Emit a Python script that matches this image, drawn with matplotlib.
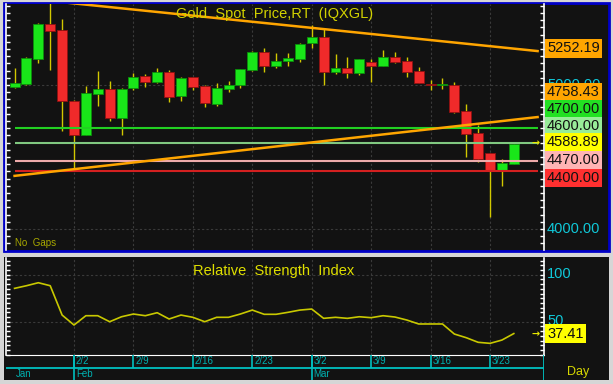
import matplotlib.pyplot as plt
import numpy as np
from matplotlib.patches import Rectangle
from matplotlib.ticker import MultipleLocator

W, H = 613, 384

# daily OHLC, Jan 26 .. Mar 25
opens = [4986, 5005, 5178, 5424, 5382, 4889, 4653, 4938, 4970, 4769,
         4981, 5062, 5023, 5088, 4924, 5053, 4995, 4868, 4970, 5000,
         5104, 5227, 5132, 5167, 5178, 5294, 5331, 5092, 5120, 5081,
         5162, 5132, 5197, 5169, 5097, 5005, 5000, 5000, 4822, 4669,
         4526, 4410, 4449]
highs = [5118, 5194, 5430, 5590, 5458, 4895, 4993, 5097, 5030, 4979,
         5085, 5076, 5118, 5102, 5053, 5055, 4998, 5012, 5030, 5111,
         5238, 5255, 5224, 5224, 5294, 5417, 5387, 5215, 5192, 5178,
         5178, 5243, 5231, 5192, 5127, 5035, 5047, 5023, 4868, 4722,
         4530, 4484, 4589]
lows = [4980, 5000, 5155, 5104, 4683, 4410, 4650, 4854, 4752, 4653,
        4965, 4988, 5014, 4882, 4889, 4965, 4845, 4851, 4953, 4981,
        5097, 5088, 5116, 5132, 5162, 5255, 5000, 5076, 5047, 5069,
        5017, 5132, 5151, 5053, 5016, 4965, 4970, 4805, 4500, 4467,
        4085, 4299, 4449]
closes = [5014, 5190, 5424, 5375, 4891, 4653, 4947, 4970, 4769, 4970,
          5058, 5021, 5088, 4919, 5047, 4988, 4873, 4979, 5000, 5111,
          5231, 5132, 5169, 5190, 5283, 5331, 5092, 5120, 5081, 5178,
          5132, 5192, 5162, 5092, 5016, 5000, 5005, 4815, 4660, 4484,
          4410, 4460, 4588.89]

rsi = [85.5, 88.3, 91.5, 88.3, 57.1, 46.5, 56.4, 56.4, 50.0, 55.3,
       58.2, 56.4, 59.6, 52.9, 57.1, 54.7, 50.0, 54.7, 54.7, 58.2,
       62.4, 57.9, 57.9, 60.0, 62.4, 63.5, 53.6, 54.7, 53.6, 55.3,
       54.3, 56.4, 55.0, 51.8, 47.6, 47.6, 47.6, 36.9, 33.0, 28.1,
       27.0, 30.5, 37.41]

week_pos = [5, 10, 15, 20, 25, 30, 35, 40]
week_labels = ['2/2', '2/9', '2/16', '2/23', '3/2', '3/9', '3/16', '3/23']
month_pos = [0, 5, 25]
month_labels = ['Jan', 'Feb', 'Mar']

# trendlines (index, price)
upper_trend_x = [3, 44]
upper_trend_y = [5583.0, 5235.2]
lower_trend_x = [0, 44]
lower_trend_y = [4368.7, 4777.0]

levels = [4700, 4600, 4470, 4400]
level_colors = ['#22d022', '#80c880', '#eeaaaa', '#d42020']

# right axis labels: text, box colour, text colour, y pixel
price_labels = [('5000.00', None, '#10c8d8', 85),
                ('5252.19', '#ffa500', '#111111', 48.5),
                ('4758.43', '#ffa500', '#111111', 92),
                ('4700.00', '#22e022', '#111111', 109),
                ('4600.00', '#98ec98', '#111111', 126),
                ('4588.89', '#ffff00', '#111111', 142.5),
                ('4470.00', '#ffb4b4', '#111111', 160.5),
                ('4400.00', '#ff3030', '#111111', 178),
                ('4000.00', None, '#10c8d8', 229)]

bg = '#121212'
fam = ['Liberation Sans', 'DejaVu Sans']
lab_fs = 10.5


def fx(x):
    return x / W


def fy(y):
    return 1 - y / H


fig = plt.figure(figsize=(W / 100, H / 100), dpi=100, facecolor='#d6d6d6')
fig.patches.append(Rectangle((fx(4), fy(251)), 605 / W, 248 / H, transform=fig.transFigure,
                             facecolor=bg, edgecolor='#0000c8', lw=2, zorder=-5))
fig.patches.append(Rectangle((fx(4), fy(380)), 605 / W, 123 / H, transform=fig.transFigure,
                             facecolor=bg, edgecolor='none', zorder=-5))

xlim = (-0.72, 44.54)

ax1 = fig.add_axes([fx(6), fy(250), 538 / W, 246 / H])
ax2 = fig.add_axes([fx(6), fy(355), 538 / W, 97 / H])
ax3 = fig.add_axes([fx(6), fy(380), 538 / W, 25 / H])

for ax in (ax1, ax2):
    ax.set_facecolor(bg)
    ax.set_xlim(xlim)
    ax.set_xticks(week_pos)
    ax.tick_params(axis='x', length=0, labelbottom=False)
    ax.tick_params(axis='y', which='both', direction='in', left=True, right=True,
                   length=3, width=1, color='white', labelleft=False)
    ax.grid(color='#3a3a3a', lw=0.8, ls=(0, (2, 2)))
    for s in ('top', 'bottom'):
        ax.spines[s].set_visible(False)
    for s in ('left', 'right'):
        ax.spines[s].set_color('white')
        ax.spines[s].set_linewidth(1.2)
ax2.spines['bottom'].set_visible(True)
ax2.spines['bottom'].set_color('white')

# ---- price panel
ax1.set_ylim(3854, 5562)
ax1.set_yticks([4000, 5000])
ax1.yaxis.set_minor_locator(MultipleLocator(50))

idx = np.arange(len(opens))
o = np.array(opens)
c = np.array(closes)
up = c >= o
ax1.vlines(idx, lows, highs, color='#d2c800', lw=1, zorder=3)
ax1.bar(idx[up], (c - o)[up], bottom=o[up], width=0.84, color='#19e619',
        edgecolor='#0b8f0b', lw=0.6, zorder=4)
ax1.bar(idx[~up], (o - c)[~up], bottom=c[~up], width=0.84, color='#f02a2a',
        edgecolor='#901010', lw=0.6, zorder=4)

ax1.hlines(levels, 0, 44, colors=level_colors, lw=1.5, zorder=5)
ax1.plot(upper_trend_x, upper_trend_y, color='#ffa500', lw=1.8, zorder=6)
ax1.plot(lower_trend_x, lower_trend_y, color='#ffa500', lw=1.8, zorder=6)

fig.text(fx(275), fy(14), 'Gold  Spot  Price,RT  (IQXGL)', ha='center', va='center',
         color='#d2d200', fontsize=10.5, family=fam)
fig.text(fx(15), fy(243), 'No  Gaps', ha='left', va='center', color='#a8a800',
         fontsize=7, family=fam)

for txt, box, col, ypx in price_labels:
    kw = {}
    if box is not None:
        kw['bbox'] = dict(boxstyle='square,pad=0.15', facecolor=box, edgecolor='none')
    fig.text(fx(547), fy(ypx), txt, ha='left', va='center', color=col, fontsize=lab_fs,
             family=fam, zorder=10 if box else 9, **kw)
fig.text(fx(536), fy(143), '→', ha='center', va='center', color='#e8e800',
         fontsize=7, fontweight='bold')

# ---- RSI panel
ax2.set_ylim(14.6, 117.8)
ax2.set_yticks([50, 100])
ax2.yaxis.set_minor_locator(MultipleLocator(5))
ax2.plot(idx, rsi, color='#c8c800', lw=1.2, zorder=4)

fig.text(fx(274), fy(271), 'Relative  Strength  Index', ha='center', va='center',
         color='#e0e000', fontsize=10.5, family=fam)
fig.text(fx(547), fy(274), '100', ha='left', va='center', color='#10c8d8',
         fontsize=lab_fs, family=fam)
fig.text(fx(547), fy(321), '50', ha='left', va='center', color='#10c8d8',
         fontsize=lab_fs, family=fam, zorder=9)
fig.text(fx(547), fy(333.5), f'{rsi[-1]:.2f}', ha='left', va='center', color='#111111',
         fontsize=lab_fs, family=fam, zorder=10,
         bbox=dict(boxstyle='square,pad=0.15', facecolor='#ffff00', edgecolor='none'))
fig.text(fx(536), fy(334), '→', ha='center', va='center', color='#e8e800',
         fontsize=7, fontweight='bold')
fig.text(fx(567), fy(372), 'Day', ha='left', va='center', color='#d8d800',
         fontsize=9, family=fam)

# ---- date axis
ax3.set_facecolor(bg)
ax3.set_xlim(xlim)
ax3.set_ylim(0, 1)
ax3.axis('off')
cyan = '#00c0c0'
ax3.hlines(0.49, xlim[0], xlim[1], color=cyan, lw=1.3)
ax3.vlines(week_pos, 0.49, 1, color=cyan, lw=1.2)
ax3.vlines(month_pos[1:], 0, 1, color=cyan, lw=1.2)
ax3.vlines(xlim[1], 0, 1, color=cyan, lw=1.3)
for p, lab in zip(week_pos, week_labels):
    ax3.text(p + 0.15, 0.74, lab, ha='left', va='center', color='#00b0b0',
             fontsize=7, family=fam)
for p, lab in zip(month_pos, month_labels):
    ax3.text(p + 0.15, 0.23, lab, ha='left', va='center', color='#00b0b0',
             fontsize=7, family=fam)

fig.savefig('out.png', dpi=100, facecolor=fig.get_facecolor())
